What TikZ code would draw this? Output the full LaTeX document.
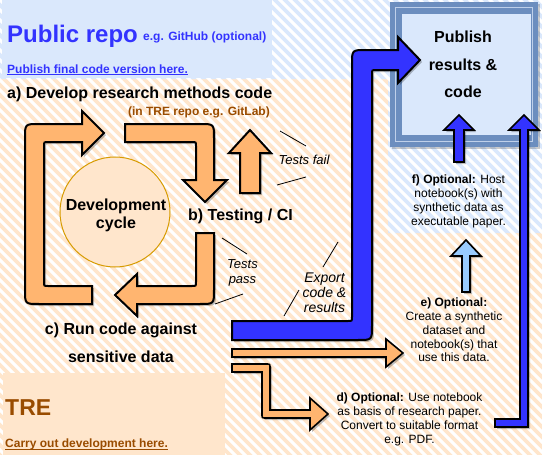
\documentclass[tikz,border=0pt]{standalone}
\usepackage{fontspec}
\setmainfont{Liberation Sans}
\usetikzlibrary{shadows}
\definecolor{hatchO}{HTML}{FFE6CC}
\definecolor{hatchB}{HTML}{DAE8FC}
\definecolor{boxB}{HTML}{DAE8FC}
\definecolor{boxO}{HTML}{FFE6CC}
\definecolor{arrO}{HTML}{FFB570}
\definecolor{arrB}{HTML}{3333FF}
\definecolor{arrLB}{HTML}{99CCFF}
\definecolor{pubBlue}{HTML}{3333FF}
\definecolor{treBrown}{HTML}{994C00}
\definecolor{frameB}{HTML}{6C8EBF}
\definecolor{frameL}{HTML}{BFD0EA}
\definecolor{circD}{HTML}{D79B00}
\newcommand\setfs[2]{\fontsize{#1}{#2}\selectfont}
\tikzset{
  shapearrow/.style={draw=black, line width=2pt, line join=miter,
    drop shadow={shadow xshift=2pt, shadow yshift=-2pt, opacity=0.25, fill=black}},
  thinarrow/.style={draw=black, line width=1.6pt, line join=miter,
    drop shadow={shadow xshift=2pt, shadow yshift=-2pt, opacity=0.25, fill=black}},
  txt/.style={inner sep=0pt, text=black},
  lbl/.style={black, line width=0.8pt},
}
\begin{document}
\begin{tikzpicture}[x=1pt, y=-1pt]
\useasboundingbox (0,0) rectangle (542,455);
\fill[white] (0,0) rectangle (542,455);
% orange hatching
\begin{scope}
  \clip (0,0) rectangle (542,455);
  \foreach \i in {-470,-460,...,560} \draw[hatchO, line width=3.6pt] (\i,-5) -- ({\i+465},460);
\end{scope}
% blue hatching
\begin{scope}
  \path[clip] (0,0) rectangle (542,79) (388,79) rectangle (542,233);
  \fill[white] (0,0) rectangle (542,233);
  \foreach \i in {-470,-460,...,560} \draw[hatchB, line width=3.6pt] (\i,-5) -- ({\i+465},460);
\end{scope}
% boxes
\node (pubrepo) [fill=boxB, minimum width=270pt, minimum height=78pt, inner sep=0pt, anchor=north west] at (2,0) {};
\node (tre) [fill=boxO, minimum width=222pt, minimum height=82pt, inner sep=0pt, anchor=north west] at (3,373) {};
% publish box
\node (pubbox) [fill=frameB, minimum width=148pt, minimum height=145pt, inner sep=0pt,
  drop shadow={shadow xshift=2pt, shadow yshift=-2pt, opacity=0.2, fill=black}] at (464,74.5) {};
\draw[frameL, line width=1.5pt] (395.5,7.5) rectangle (532.5,141.5);
\fill[boxB] (402,14) rectangle (531,135);
% development circle
\node (devcircle) [circle, fill=boxO, draw=circD, line width=1pt, minimum size=110pt, inner sep=0pt] at (115,212) {};
% orange cycle arrows
\draw[shapearrow, fill=arrO] (92,286) -- (48,286) .. controls (44,286) .. (44,282) -- (44,146)
  .. controls (44,142) .. (48,142) -- (82,142) -- (82,155) -- (104,133) -- (82,111) -- (82,124)
  -- (39,124) .. controls (25,124) .. (25,138) -- (25,290) .. controls (25,304) .. (39,304) -- (92,304) -- cycle;
\draw[shapearrow, fill=arrO] (125,124) -- (200,124) .. controls (214,124) .. (214,138) -- (214,180)
  -- (227,180) -- (205,202) -- (183,180) -- (196,180) -- (196,146) .. controls (196,142) .. (192,142)
  -- (125,142) -- cycle;
\draw[shapearrow, fill=arrO] (240,193) -- (240,153) -- (229,153) -- (250,130) -- (271,153) -- (260,153) -- (260,193) -- cycle;
\draw[shapearrow, fill=arrO] (214,233) -- (214,290) .. controls (214,304) .. (200,304) -- (137,304)
  -- (137,316) -- (115,295) -- (137,274) -- (137,286) -- (192,286) .. controls (196,286) .. (196,282)
  -- (196,233) -- cycle;
% big blue arrow
\draw[shapearrow, fill=arrB] (232,321) -- (348,321) .. controls (352,321) .. (352,317) -- (352,64)
  .. controls (352,50) .. (366,50) -- (398,50) -- (398,37) -- (420,60) -- (398,83) -- (398,70)
  -- (376,70) .. controls (372,70) .. (372,74) -- (372,326) .. controls (372,340) .. (358,340) -- (232,340) -- cycle;
% thin orange arrows
\draw[thinarrow, fill=arrO] (232,349) -- (386,349) -- (386,339) -- (403,353) -- (386,367) -- (386,357) -- (232,357) -- cycle;
\draw[thinarrow, fill=arrO] (232,364) -- (266,364) .. controls (270,364) .. (270,368) -- (270,410) -- (310,410)
  -- (310,398) -- (328,414) -- (310,430) -- (310,418) -- (266,418) .. controls (262,418) .. (262,414)
  -- (262,372) -- (232,372) -- cycle;
% blue arrows into publish box
\draw[thinarrow, fill=arrB] (454,162) -- (454,130) -- (444,130) -- (459,115) -- (474,130) -- (464,130) -- (464,162) -- cycle;
\draw[thinarrow, fill=arrB] (495,419) -- (520,419) -- (520,130) -- (509,130) -- (524,115) -- (539,130) -- (528,130) -- (528,427) -- (495,427) -- cycle;
\draw[thinarrow, fill=arrLB] (462,292) -- (462,256) -- (451,256) -- (466,240) -- (481,256) -- (470,256) -- (470,292) -- cycle;
% texts
\node (pubtitle) [anchor=base west, inner sep=0pt, text=pubBlue, font=\setfs{24}{28}\bfseries] at (7,42) {Public repo};
\node (pubsub) [anchor=base west, inner sep=0pt, text=pubBlue, font=\setfs{12}{14}\bfseries] at (143,41) {e.g. GitHub (optional)};
\node (publink) [anchor=base west, inner sep=0pt, text=pubBlue, font=\setfs{12}{14}\bfseries] at (7,73) {Publish final code version here.};
\draw[pubBlue, line width=1.1pt] ([yshift=-1.8pt]publink.base west) -- ([yshift=-1.8pt]publink.base east);
\node (atext) [txt, anchor=base west, font=\setfs{16}{19}\bfseries] at (7,99) {a) Develop research methods code};
\node (gitlab) [anchor=base east, inner sep=0pt, text=treBrown, font=\setfs{12}{14}\bfseries] at (270,115.5) {(in TRE repo e.g. GitLab)};
\node (btext) [txt, anchor=base west, font=\setfs{16}{19}\bfseries] at (188,220) {b) Testing / CI};
\node (devtext) [txt, align=center, font=\setfs{16}{18}\bfseries] at (116,215) {Development\\cycle};
\node (failtext) [txt, anchor=base, font=\setfs{13}{15}\itshape] at (304,164) {Tests fail};
\node (passtext) [txt, align=center, font=\setfs{13}{15}\itshape] at (242.5,273.2) {Tests\\pass};
\node (exporttext) [txt, align=center, font=\setfs{14}{15}\itshape] at (324.5,293) {Export\\code \&\\results};
\node (ctext) [txt, align=center, font=\setfs{16}{28}\bfseries] at (121,343.2) {c) Run code against\\sensitive data};
\node (tretitle) [anchor=base west, inner sep=0pt, text=treBrown, font=\setfs{23}{28}\bfseries] at (5,415) {TRE};
\node (trelink) [anchor=base west, inner sep=0pt, text=treBrown, font=\setfs{12}{14}\bfseries] at (5,447) {Carry out development here.};
\draw[treBrown, line width=1.1pt] ([yshift=-2.2pt]trelink.base west) -- ([yshift=-2.2pt]trelink.base east);
\node (pubtext) [txt, align=center, font=\setfs{16}{27.5}\bfseries] at (463,64.75) {Publish\\results \&\\code};
\node (ftext) [txt, align=center, font=\setfs{12}{14.3}] at (458.5,201.4) {\textbf{f) Optional:} Host\\notebook(s) with\\synthetic data as\\executable paper.};
\node (etext) [txt, align=center, font=\setfs{12}{13.75}] at (454,330.1) {\textbf{e) Optional:}\\Create a synthetic\\dataset and\\notebook(s) that\\use this data.};
\node (dtext) [txt, align=center, font=\setfs{12}{14}] at (409.5,418.9) {\textbf{d) Optional:} Use notebook\\as basis of research paper.\\Convert to suitable format\\e.g. PDF.};
% label lines
\coordinate (tfa1) at (280,131); \coordinate (tfa2) at (306,146);
\coordinate (tfb1) at (277,185); \coordinate (tfb2) at (306,177);
\coordinate (tpa1) at (222,238); \coordinate (tpa2) at (247,254);
\coordinate (tpb1) at (215,304); \coordinate (tpb2) at (243,294);
\coordinate (exa1) at (338,242); \coordinate (exa2) at (323,267);
\coordinate (exb1) at (299,290); \coordinate (exb2) at (284,316);
\draw[lbl] (tfa1) -- (tfa2);
\draw[lbl] (tfb1) -- (tfb2);
\draw[lbl] (tpa1) -- (tpa2);
\draw[lbl] (tpb1) -- (tpb2);
\draw[lbl] (exa1) -- (exa2);
\draw[lbl] (exb1) -- (exb2);
\end{tikzpicture}
\end{document}
